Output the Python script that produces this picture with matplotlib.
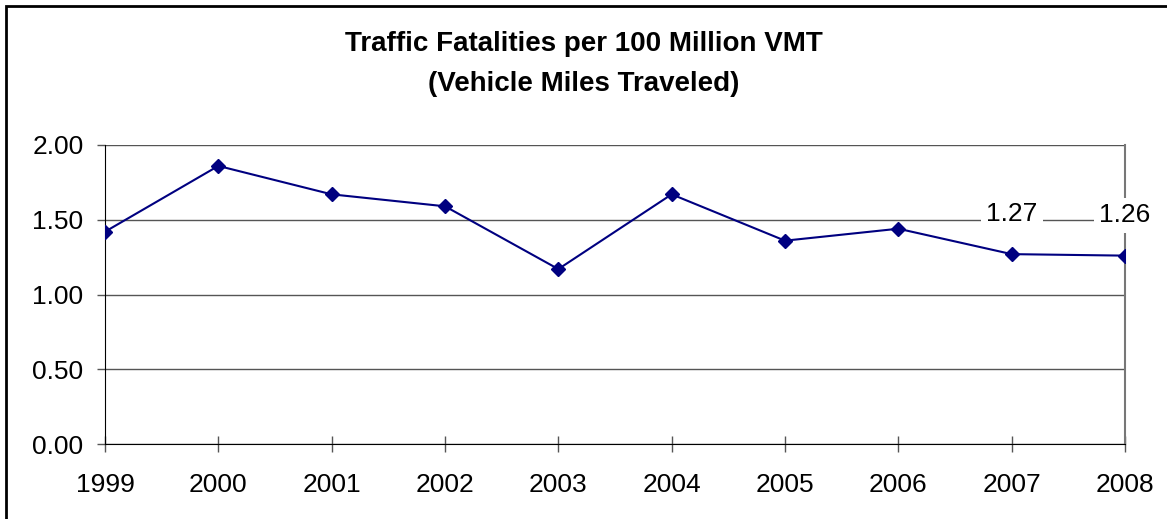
import numpy as np
import matplotlib.pyplot as plt
from matplotlib.patches import Rectangle

plt.rcParams['font.family'] = ['Liberation Sans', 'DejaVu Sans']

years = ['1999', '2000', '2001', '2002', '2003', '2004', '2005', '2006', '2007', '2008']
rate = [1.42, 1.86, 1.67, 1.59, 1.17, 1.67, 1.36, 1.44, 1.27, 1.26]
labelled = ['2007', '2008']

fig = plt.figure(figsize=(11.67, 5.19), dpi=100)
ax = fig.add_axes([105/1167, 75/519, 1020/1167, 299/519])

# chart border (only top/left fall inside the image)
fig.patches.append(Rectangle((6/1167, -0.1), 1.2, (513/519) + 0.1, transform=fig.transFigure,
                             fill=False, edgecolor='black', linewidth=2))

x = np.arange(len(years))
ax.plot(x, rate, color='#000080', linewidth=1.5, marker='D', markersize=7.5,
        markerfacecolor='#000080', markeredgecolor='#000080', zorder=3)

for i, yr in enumerate(years):
    if yr in labelled:
        ax.annotate('%.2f' % rate[i], (x[i], rate[i]), xytext=(0, 29), textcoords='offset points',
                    ha='center', va='center', fontsize=19,
                    bbox=dict(boxstyle='square,pad=0.2', facecolor='white', edgecolor='none'),
                    zorder=4)

ax.set_xlim(0, len(years) - 1)
ax.set_ylim(0, 2)
ax.set_yticks([0, 0.5, 1.0, 1.5, 2.0])
ax.set_yticklabels(['%.2f' % v for v in [0, 0.5, 1.0, 1.5, 2.0]])
ax.set_xticks(x)
ax.set_xticklabels(years)
ax.tick_params(axis='both', labelsize=19, width=1, color='#555555')
ax.tick_params(axis='x', direction='inout', length=12, pad=15)
ax.tick_params(axis='y', direction='out', length=6, pad=9.5)

ax.yaxis.grid(True, color='#555555', linewidth=1)
ax.set_axisbelow(True)
ax.spines['top'].set_visible(False)
ax.spines['right'].set_color('#777777')
ax.spines['right'].set_linewidth(1.5)
ax.spines['left'].set_color('black')
ax.spines['bottom'].set_color('black')

fig.text(0.5, 1 - 44/519, 'Traffic Fatalities per 100 Million VMT', ha='center', va='center',
         fontsize=20, fontweight='bold')
fig.text(0.5, 1 - 84/519, '(Vehicle Miles Traveled)', ha='center', va='center',
         fontsize=20, fontweight='bold')

fig.savefig('out.png', dpi=100)
